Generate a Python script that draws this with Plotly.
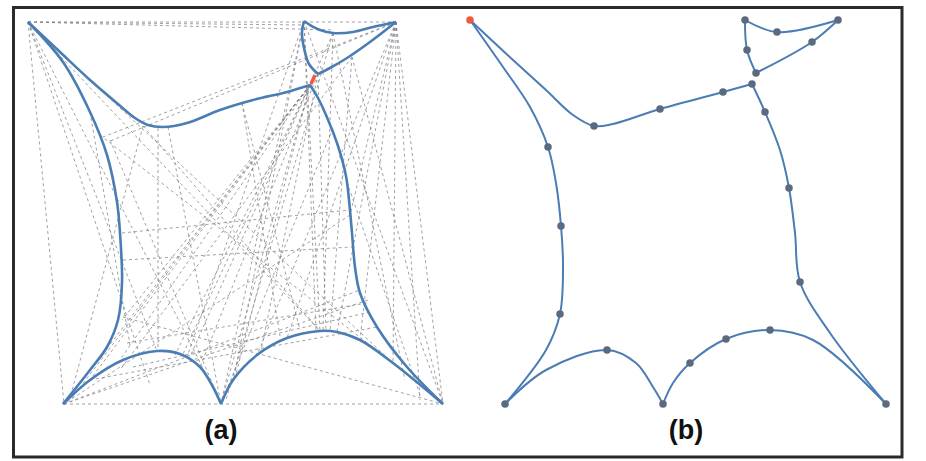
import plotly.graph_objects as go

# ---------------- Panel (a): curves (pixel-space coordinates) ----------------
a_top = [(28, 22), (60, 52), (90, 80), (118, 104), (135, 118), (148, 125), (163, 127),
         (187, 123), (220, 110), (253, 100), (287, 92), (310, 85)]
a_left = [(28, 22), (63, 62), (90, 112), (107, 155), (117, 202), (120, 233), (122, 283),
          (118, 320), (107, 347), (90, 370), (63, 404)]
a_arc_left = [(63, 404), (90, 380), (123, 360), (157, 351), (180, 354), (200, 367),
              (213, 387), (221, 404)]
a_arc_right = [(221, 404), (233, 380), (257, 355), (287, 338), (320, 331), (337, 332),
               (360, 340), (393, 363), (443, 404)]
a_right = [(443, 404), (407, 367), (377, 327), (360, 293), (355, 267), (352, 233),
           (349, 200), (346, 176), (338, 146), (326, 115), (318, 98), (310, 85)]
a_loop_top = [(304, 21), (310, 25), (320, 30), (333, 33), (353, 32), (373, 27), (396, 22)]
a_loop_diag = [(396, 22), (370, 42), (347, 58), (330, 68), (318, 74)]
a_loop_left = [(318, 74), (309, 64), (304, 48), (302, 33), (304, 21)]
a_red = [(315, 75), (311, 84)]

# dotted construction lines of panel (a): x0, y0, x1, y1
a_dotted = [
    (28, 22, 396, 22), (28, 22, 304, 25), (28, 22, 334, 30), (28, 22, 64, 404),
    (64, 404, 443, 404), (396, 22, 443, 404),
    (28, 22, 157, 351), (28, 22, 150, 385), (28, 22, 221, 404), (28, 22, 320, 331),
    (28, 22, 393, 363),
    (396, 22, 103, 137), (396, 22, 108, 142), (396, 22, 337, 332), (396, 22, 360, 340),
    (396, 22, 393, 363), (396, 22, 420, 400), (396, 22, 287, 338), (396, 22, 257, 355),
    (396, 22, 350, 215),
    (304, 21, 221, 404), (304, 21, 233, 382), (304, 21, 320, 331), (304, 21, 316, 331),
    (304, 21, 443, 404), (304, 21, 187, 357),
    (333, 33, 226, 400), (333, 33, 323, 331), (333, 33, 190, 357), (333, 33, 405, 380),
    (318, 74, 326, 331), (318, 74, 200, 367), (318, 74, 260, 355), (318, 74, 120, 360),
    (310, 85, 64, 404), (310, 85, 72, 398), (310, 85, 90, 380), (310, 85, 175, 355),
    (310, 85, 182, 356), (310, 85, 221, 404), (310, 85, 235, 378), (310, 85, 122, 320),
    (352, 57, 120, 370), (352, 57, 330, 331), (352, 57, 443, 404),
    (143, 126, 70, 398), (158, 128, 158, 351), (168, 127, 221, 404), (242, 103, 300, 330),
    (242, 103, 280, 336), (143, 126, 320, 331),
    (122, 233, 350, 210), (123, 260, 352, 247), (123, 317, 443, 404), (127, 343, 367, 303),
    (133, 367, 370, 312), (100, 135, 393, 363), (64, 404, 360, 290), (64, 404, 368, 300),
    (90, 380, 377, 327),
    (333, 128, 221, 404), (350, 215, 64, 404), (347, 182, 420, 395),
    (90, 112, 130, 345), (110, 140, 221, 404),
]

# ---------------- Panel (b): curves and nodes ----------------
b_top = [(470, 20), (513, 60), (546, 90), (573, 115), (594, 126), (613, 124), (660, 109),
         (723, 92), (752, 84)]
b_left = [(470, 20), (503, 67), (530, 107), (548, 147), (556, 183), (561, 226), (563, 267),
          (560, 314), (546, 350), (505, 404)]
b_arc_left = [(505, 404), (546, 370), (607, 350), (636, 363), (653, 387), (663, 404)]
b_arc_right = [(663, 404), (673, 383), (690, 363), (726, 339), (770, 330), (813, 340),
               (886, 404)]
b_right = [(886, 404), (830, 333), (800, 282), (795, 233), (789, 188), (780, 150),
           (765, 112), (752, 84)]
b_loop_top = [(745, 20), (777, 32), (838, 20)]
b_loop_diag = [(838, 20), (812, 42), (756, 73)]
b_loop_left = [(756, 73), (747, 50), (745, 20)]

b_nodes_x = [594, 660, 723, 752, 765, 789, 800, 886, 770, 726, 690, 663, 607, 505, 560,
             561, 548, 745, 777, 838, 812, 756, 747]
b_nodes_y = [126, 109, 92, 84, 112, 188, 282, 404, 330, 339, 363, 404, 350, 404, 314,
             226, 147, 20, 32, 20, 42, 73, 50]
b_start_x = [470]
b_start_y = [20]

panel_labels = ["(a)", "(b)"]
label_x = [221, 686]
label_y = [432, 432]

BLUE = "#4a7db3"
NODE = "#5c6a80"
RED = "#ee5a3c"

fig = go.Figure()

# dotted lines
dx, dy = [], []
for x0, y0, x1, y1 in a_dotted:
    dx += [x0, x1, None]
    dy += [y0, y1, None]
fig.add_trace(go.Scatter(x=dx, y=dy, mode="lines",
                         line=dict(color="rgba(120,120,128,0.7)", width=1, dash="dot"),
                         hoverinfo="skip"))


def curve(pts, width, color=BLUE):
    fig.add_trace(go.Scatter(x=[p[0] for p in pts], y=[p[1] for p in pts], mode="lines",
                             line=dict(color=color, width=width, shape="spline",
                                       smoothing=1.0),
                             hoverinfo="skip"))


for c in [a_top, a_left, a_arc_left, a_arc_right, a_right, a_loop_top, a_loop_diag,
          a_loop_left]:
    curve(c, 2.6)
fig.add_trace(go.Scatter(x=[p[0] for p in a_red], y=[p[1] for p in a_red], mode="lines",
                         line=dict(color=RED, width=3.5), hoverinfo="skip"))

for c in [b_top, b_left, b_arc_left, b_arc_right, b_right, b_loop_top, b_loop_diag,
          b_loop_left]:
    curve(c, 2.0)

fig.add_trace(go.Scatter(x=b_nodes_x, y=b_nodes_y, mode="markers",
                         marker=dict(color=NODE, size=7.5), hoverinfo="skip"))
fig.add_trace(go.Scatter(x=b_start_x, y=b_start_y, mode="markers",
                         marker=dict(color=RED, size=7.5), hoverinfo="skip"))

fig.add_trace(go.Scatter(x=label_x, y=label_y, mode="text", text=panel_labels,
                         textfont=dict(family="Liberation Sans", size=27, color="#111111"),
                         texttemplate="<b>%{text}</b>", hoverinfo="skip"))

fig.update_layout(
    width=926, height=461,
    margin=dict(l=0, r=0, t=0, b=0),
    paper_bgcolor="white", plot_bgcolor="white",
    showlegend=False,
    xaxis=dict(range=[0, 926], visible=False, fixedrange=True),
    yaxis=dict(range=[461, 0], visible=False, fixedrange=True),
    shapes=[dict(type="rect", xref="x", yref="y", x0=13.5, y0=7.5, x1=902, y1=457,
                 line=dict(color="#2a2a2a", width=3), layer="above")],
)

fig.write_html("out.html", config={"displayModeBar": False},
               post_script="document.body.style.margin='0px';document.body.style.overflow='hidden';")
